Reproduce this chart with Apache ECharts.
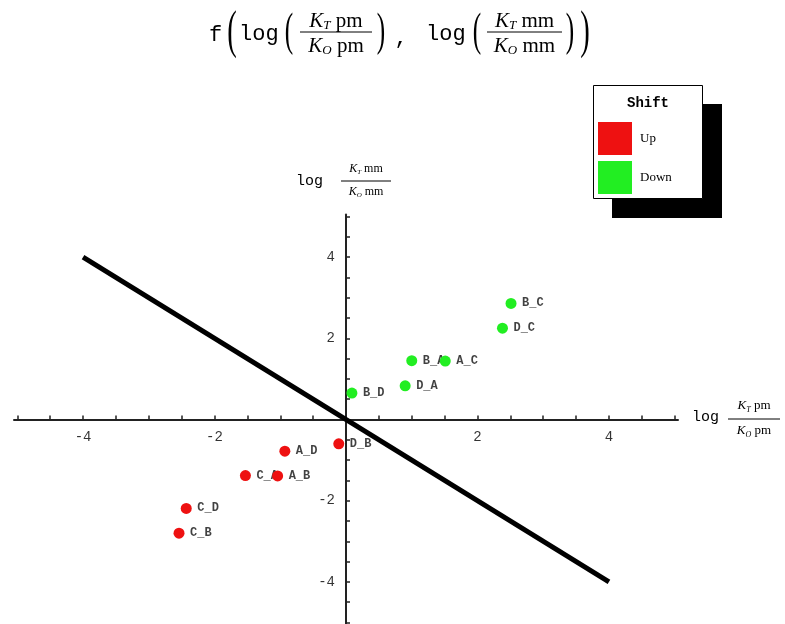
<!DOCTYPE html>
<html>
<head>
<meta charset="utf-8">
<style>
  html, body { margin: 0; padding: 0; background: #fff; }
  #chart { width: 785px; height: 624px; }
</style>
<script src="https://cdn.jsdelivr.net/npm/echarts@6/dist/echarts.min.js"></script>
</head>
<body>
<div id="chart"></div>
<script>
// Pair shifts: log(KT/KO) for pm (x) and mm (y)
const upNames = ['D_B', 'A_D', 'C_A', 'A_B', 'C_D', 'C_B'];
const upX = [-0.11, -0.93, -1.53, -1.04, -2.43, -2.54];
const upY = [-0.60, -0.78, -1.38, -1.39, -2.19, -2.80];

const downNames = ['B_C', 'D_C', 'B_A', 'A_C', 'D_A', 'B_D'];
const downX = [2.51, 2.38, 1.00, 1.51, 0.90, 0.09];
const downY = [2.86, 2.25, 1.45, 1.44, 0.83, 0.65];

// reference line y = -x
const refX = [-4, 4];
const refY = [4, -4];

const xTickLabels = [-4, -2, 2, 4];
const yTickLabels = [-4, -2, 2, 4];
const tickMarks = [-5, -4.5, -4, -3.5, -3, -2.5, -2, -1.5, -1, -0.5, 0.5, 1, 1.5, 2, 2.5, 3, 3.5, 4, 4.5, 5];

const legendNames = ['Up', 'Down'];
const legendTitle = 'Shift';

const RED = '#ee1111';
const GREEN = '#22ee22';
const MONO = '"Liberation Mono", "DejaVu Sans Mono", monospace';
const SERIF = '"Liberation Serif", "DejaVu Serif", serif';

const points = (xs, ys, names) => xs.map((x, i) => ({ value: [x, ys[i]], name: names[i] }));

function richFor(size) {
  return {
    k: { fontFamily: SERIF, fontStyle: 'italic', fontSize: size, lineHeight: size + 2 },
    s: { fontFamily: SERIF, fontStyle: 'italic', fontSize: Math.round(size * 0.6), verticalAlign: 'bottom', lineHeight: size + 2 },
    u: { fontFamily: SERIF, fontSize: size, lineHeight: size + 2 }
  };
}

// stacked fraction: numerator / bar / denominator
function fraction(cx, barY, x0, x1, num, den, size, up, down) {
  return [
    { type: 'text', x: cx, y: barY - up, z: 10,
      style: { text: num, rich: richFor(size), align: 'center', verticalAlign: 'middle', fill: '#000' } },
    { type: 'line', z: 10, shape: { x1: x0, y1: barY, x2: x1, y2: barY },
      style: { stroke: '#000', lineWidth: 1 } },
    { type: 'text', x: cx, y: barY + down, z: 10,
      style: { text: den, rich: richFor(size), align: 'center', verticalAlign: 'middle', fill: '#000' } }
  ];
}

function plain(text, x, y, font, size, align, extra, weight) {
  return Object.assign({ type: 'text', x: x, y: y, z: 10,
    style: { text: text, fontFamily: font, fontSize: size, fontWeight: weight || 'normal',
      align: align || 'left', verticalAlign: 'middle', fill: '#000' } }, extra || {});
}

function paren(ch, x, y, size) {
  return plain(ch, x, y, SERIF, size, 'center', { scaleX: 0.55 });
}

const graphics = [].concat(
  // heading f(log(KT pm / KO pm), log(KT mm / KO mm))
  [plain('f', 209, 35, MONO, 22)],
  [paren('(', 232, 33, 52)],
  [plain('log', 239, 34, MONO, 22)],
  [paren('(', 289, 33, 46)],
  fraction(336, 32, 300, 372, '{k|K}{s|T}{u| pm}', '{k|K}{s|O}{u| pm}', 21, 11, 14),
  [paren(')', 381, 33, 46)],
  [plain(',', 401, 38, MONO, 22, 'center')],
  [plain('log', 426, 34, MONO, 22)],
  [paren('(', 477, 33, 46)],
  fraction(524.5, 32, 487, 562, '{k|K}{s|T}{u| mm}', '{k|K}{s|O}{u| mm}', 21, 11, 14),
  [paren(')', 570, 33, 46)],
  [paren(')', 585, 33, 52)],
  // vertical axis title
  [plain('log', 296, 181, MONO, 15)],
  fraction(366, 181, 341, 391, '{k|K}{s|T}{u| mm}', '{k|K}{s|O}{u| mm}', 12, 12, 11),
  // horizontal axis title
  [plain('log', 692, 417, MONO, 15)],
  fraction(754, 419, 728, 780, '{k|K}{s|T}{u| pm}', '{k|K}{s|O}{u| pm}', 13, 13, 12),
  // legend frame with drop shadow
  [
    { type: 'rect', z: 1, shape: { x: 612, y: 104, width: 110, height: 114 }, style: { fill: '#000' } },
    { type: 'rect', z: 2, shape: { x: 593.5, y: 85.5, width: 109, height: 113 }, style: { fill: '#fff', stroke: '#000', lineWidth: 1 } },
    plain(legendTitle, 648, 103, MONO, 14, 'center', null, 'bold')
  ]
);

const chart = echarts.init(document.getElementById('chart'), null, { renderer: 'canvas' });

const axisCommon = {
  type: 'value',
  min: -5.05,
  max: 5.05,
  axisLine: { onZero: true, lineStyle: { color: '#222', width: 2 } },
  axisTick: { show: true, inside: true, length: 4, customValues: tickMarks, lineStyle: { color: '#222', width: 1.5 } },
  splitLine: { show: false },
  axisLabel: { show: false }
};

const labelFont = { fontFamily: MONO, fontSize: 12, fontWeight: 'bold', color: '#111' };
const tickFont = { fontFamily: MONO, fontSize: 14, color: '#000' };

chart.setOption({
  animation: false,
  backgroundColor: '#fff',
  grid: { left: 14, width: 664, top: 214.5, height: 410, outerBoundsMode: 'none', containLabel: false },
  xAxis: Object.assign({}, axisCommon),
  yAxis: Object.assign({}, axisCommon),
  legend: {
    data: legendNames,
    orient: 'vertical',
    left: 598,
    top: 122,
    padding: 0,
    itemWidth: 34,
    itemHeight: 33,
    itemGap: 6,
    icon: 'rect',
    selectedMode: false,
    z: 5,
    itemStyle: { opacity: 1 },
    textStyle: { fontFamily: SERIF, fontSize: 13, color: '#000', padding: [0, 0, 0, 3] }
  },
  graphic: { elements: graphics },
  series: [
    {
      type: 'line',
      data: refX.map((x, i) => [x, refY[i]]),
      symbol: 'none',
      lineStyle: { color: '#000', width: 5 },
      z: 2,
      silent: true
    },
    // tick numbers sitting on the crossing axes
    {
      name: 'xTicks',
      type: 'scatter',
      data: xTickLabels.map(v => [v, 0]),
      symbolSize: 0,
      silent: true,
      label: Object.assign({ show: true, position: 'bottom', distance: 11, formatter: p => String(p.value[0]) }, tickFont),
      z: 3
    },
    {
      name: 'yTicks',
      type: 'scatter',
      data: yTickLabels.map(v => [0, v]),
      symbolSize: 0,
      silent: true,
      label: Object.assign({ show: true, position: 'left', distance: 11, formatter: p => String(p.value[1]) }, tickFont),
      z: 3
    },
    {
      name: 'upLabels',
      type: 'scatter',
      data: points(upX, upY, upNames),
      symbolSize: 10,
      itemStyle: { color: 'rgba(0,0,0,0)' },
      label: Object.assign({ show: true, position: 'right', distance: 6, formatter: '{b}' }, labelFont),
      z: 3
    },
    {
      name: 'downLabels',
      type: 'scatter',
      data: points(downX, downY, downNames),
      symbolSize: 10,
      itemStyle: { color: 'rgba(0,0,0,0)' },
      label: Object.assign({ show: true, position: 'right', distance: 6, formatter: '{b}' }, labelFont),
      z: 3
    },
    {
      name: 'Up',
      type: 'scatter',
      data: points(upX, upY, upNames),
      symbolSize: 11,
      itemStyle: { color: RED, opacity: 1 },
      z: 4
    },
    {
      name: 'Down',
      type: 'scatter',
      data: points(downX, downY, downNames),
      symbolSize: 11,
      itemStyle: { color: GREEN, opacity: 1 },
      z: 4
    }
  ]
});
</script>
</body>
</html>
